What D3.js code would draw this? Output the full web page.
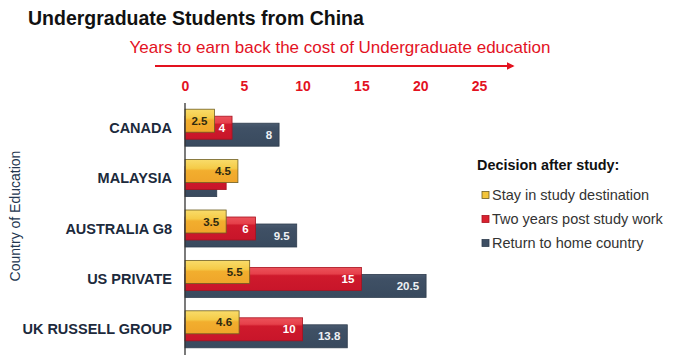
<!DOCTYPE html>
<html>
<head>
<meta charset="utf-8">
<script src="https://cdn.jsdelivr.net/npm/d3@7"></script>
<style>
  body { margin: 0; background: #fff; }
  svg { font-family: "Liberation Sans", Arial, sans-serif; display: block; }
</style>
</head>
<body>
<div id="chart"></div>
<script>
// Chart data
var countries = ["CANADA", "MALAYSIA", "AUSTRALIA G8", "US PRIVATE", "UK RUSSELL GROUP"];
var seriesNames = ["Stay in study destination", "Two years post study work", "Return to home country"];
var stayValues = [2.5, 4.5, 3.5, 5.5, 4.6];
var postStudyValues = [4, 3.5, 6, 15, 10];
var homeValues = [8, 2.7, 9.5, 20.5, 13.8];
var xTicks = [0, 5, 10, 15, 20, 25];

var width = 680, height = 360;

var svg = d3.select("#chart")
    .append("svg")
    .attr("width", width)
    .attr("height", height);

var defs = svg.append("defs");

// vertical gradients, light band on top like the original
function addGradient(id, stops) {
    var g = defs.append("linearGradient")
        .attr("id", id)
        .attr("x1", 0).attr("y1", 0).attr("x2", 0).attr("y2", 1);
    stops.forEach(function(s) {
        g.append("stop").attr("offset", s[0]).attr("stop-color", s[1]);
    });
}
addGradient("gYellow", [["0%", "#f9dc6a"], ["38%", "#f5cb48"], ["48%", "#f2ae2e"], ["100%", "#efa52a"]]);
addGradient("gRed", [["0%", "#ec525b"], ["28%", "#e6404a"], ["36%", "#cf1a2c"], ["100%", "#c8152a"]]);
addGradient("gBlue", [["0%", "#4a5b70"], ["20%", "#3f5065"], ["100%", "#394a5e"]]);

var series = [
    { name: seriesNames[0], values: stayValues, fill: "url(#gYellow)", stroke: "#6e5e22", key: "#f3c43a", label: "#2e2a10" },
    { name: seriesNames[1], values: postStudyValues, fill: "url(#gRed)", stroke: "#a8121f", key: "#d9222f", label: "#ffffff" },
    { name: seriesNames[2], values: homeValues, fill: "url(#gBlue)", stroke: "#2f3d4e", key: "#3d4e63", label: "#eef1f4" }
];

// Scales
var x = d3.scaleLinear().domain([0, 25]).range([185, 479]);
var y = d3.scaleBand().domain(countries).range([103, 355]).padding(0);
var offset = d3.scalePoint().domain(seriesNames).range([-19, -5]);
var barH = 23;

// Title
svg.append("text")
    .attr("x", 28).attr("y", 25)
    .style("font-size", "19.5px").style("font-weight", "bold")
    .style("fill", "#111")
    .text("Undergraduate Students from China");

// Red subtitle with arrow
svg.append("text")
    .attr("x", 340).attr("y", 53)
    .attr("text-anchor", "middle")
    .style("font-size", "17px")
    .style("fill", "#e3121f")
    .text("Years to earn back the cost of Undergraduate education");

defs.append("marker")
    .attr("id", "arrow")
    .attr("viewBox", "0 0 10 10")
    .attr("refX", 8).attr("refY", 5)
    .attr("markerWidth", 4).attr("markerHeight", 4)
    .attr("orient", "auto")
    .append("path")
    .attr("d", "M0,0L10,5L0,10z")
    .style("fill", "#e3121f");

svg.append("line")
    .attr("x1", 155).attr("x2", 513)
    .attr("y1", 66).attr("y2", 66)
    .style("stroke", "#e3121f")
    .style("stroke-width", 2)
    .attr("marker-end", "url(#arrow)");

// X tick labels on top
var xAxis = svg.append("g")
    .attr("transform", "translate(0,91)")
    .call(d3.axisTop(x).tickValues(xTicks).tickSize(0).tickPadding(0));
xAxis.select(".domain").remove();
xAxis.selectAll("text")
    .style("font-size", "14px")
    .style("font-weight", "bold")
    .style("fill", "#e3121f")
    .style("font-family", "Liberation Sans, Arial, sans-serif");

// Bars: blue behind, then red, then yellow on top
var order = [2, 1, 0];
order.forEach(function(si) {
    var s = series[si];
    var g = svg.append("g");
    g.selectAll("rect")
        .data(countries)
        .enter()
        .append("rect")
        .attr("x", x(0))
        .attr("y", function(d) { return y(d) + y.bandwidth() / 2 + offset(s.name); })
        .attr("width", function(d, i) { return x(s.values[i]) - x(0); })
        .attr("height", barH)
        .style("fill", s.fill)
        .style("stroke", s.stroke)
        .style("stroke-width", 0.8);
});

// Value labels (hidden where the bar is covered by the one above)
order.forEach(function(si) {
    var s = series[si];
    svg.append("g")
        .selectAll("text")
        .data(countries)
        .enter()
        .filter(function(d, i) {
            return si === 0 || s.values[i] > series[si - 1].values[i] + 1;
        })
        .append("text")
        .attr("x", function(d) { return x(s.values[countries.indexOf(d)]) - 7; })
        .attr("y", function(d) { return y(d) + y.bandwidth() / 2 + offset(s.name) + barH / 2; })
        .attr("dy", "0.36em")
        .attr("text-anchor", "end")
        .style("font-size", "11.5px")
        .style("font-weight", "bold")
        .style("fill", s.label)
        .text(function(d) { return s.values[countries.indexOf(d)]; });
});

// Vertical axis line
svg.append("line")
    .attr("x1", x(0)).attr("x2", x(0))
    .attr("y1", 103).attr("y2", 355)
    .style("stroke", "#333")
    .style("stroke-width", 1.3);

// Category labels
var yAxis = svg.append("g")
    .attr("transform", "translate(" + (x(0) - 13) + ",0)")
    .call(d3.axisLeft(y).tickSize(0).tickPadding(0));
yAxis.select(".domain").remove();
yAxis.selectAll("text")
    .style("font-size", "14.5px")
    .style("font-weight", "bold")
    .style("fill", "#1c2a3c")
    .style("font-family", "Liberation Sans, Arial, sans-serif");

// Y label
svg.append("text")
    .attr("transform", "translate(20,216) rotate(-90)")
    .attr("text-anchor", "middle")
    .style("font-size", "14px")
    .style("fill", "#23364f")
    .text("Country of Education");

// Legend
svg.append("text")
    .attr("x", 477).attr("y", 170)
    .style("font-size", "14.4px")
    .style("font-weight", "bold")
    .style("fill", "#111")
    .text("Decision after study:");

var legend = svg.selectAll(".legend")
    .data(series)
    .enter().append("g")
    .attr("class", "legend")
    .attr("transform", function(d, i) { return "translate(482," + (195 + i * 24) + ")"; });

legend.append("rect")
    .attr("x", 0).attr("y", -3.5)
    .attr("width", 7).attr("height", 7)
    .style("fill", function(d) { return d.key; })
    .style("stroke", function(d) { return d.stroke; })
    .style("stroke-width", 0.8);

legend.append("text")
    .attr("x", 10).attr("y", 0)
    .attr("dy", "0.36em")
    .style("font-size", "14.5px")
    .style("fill", "#333")
    .text(function(d) { return d.name; });
</script>
</body>
</html>
